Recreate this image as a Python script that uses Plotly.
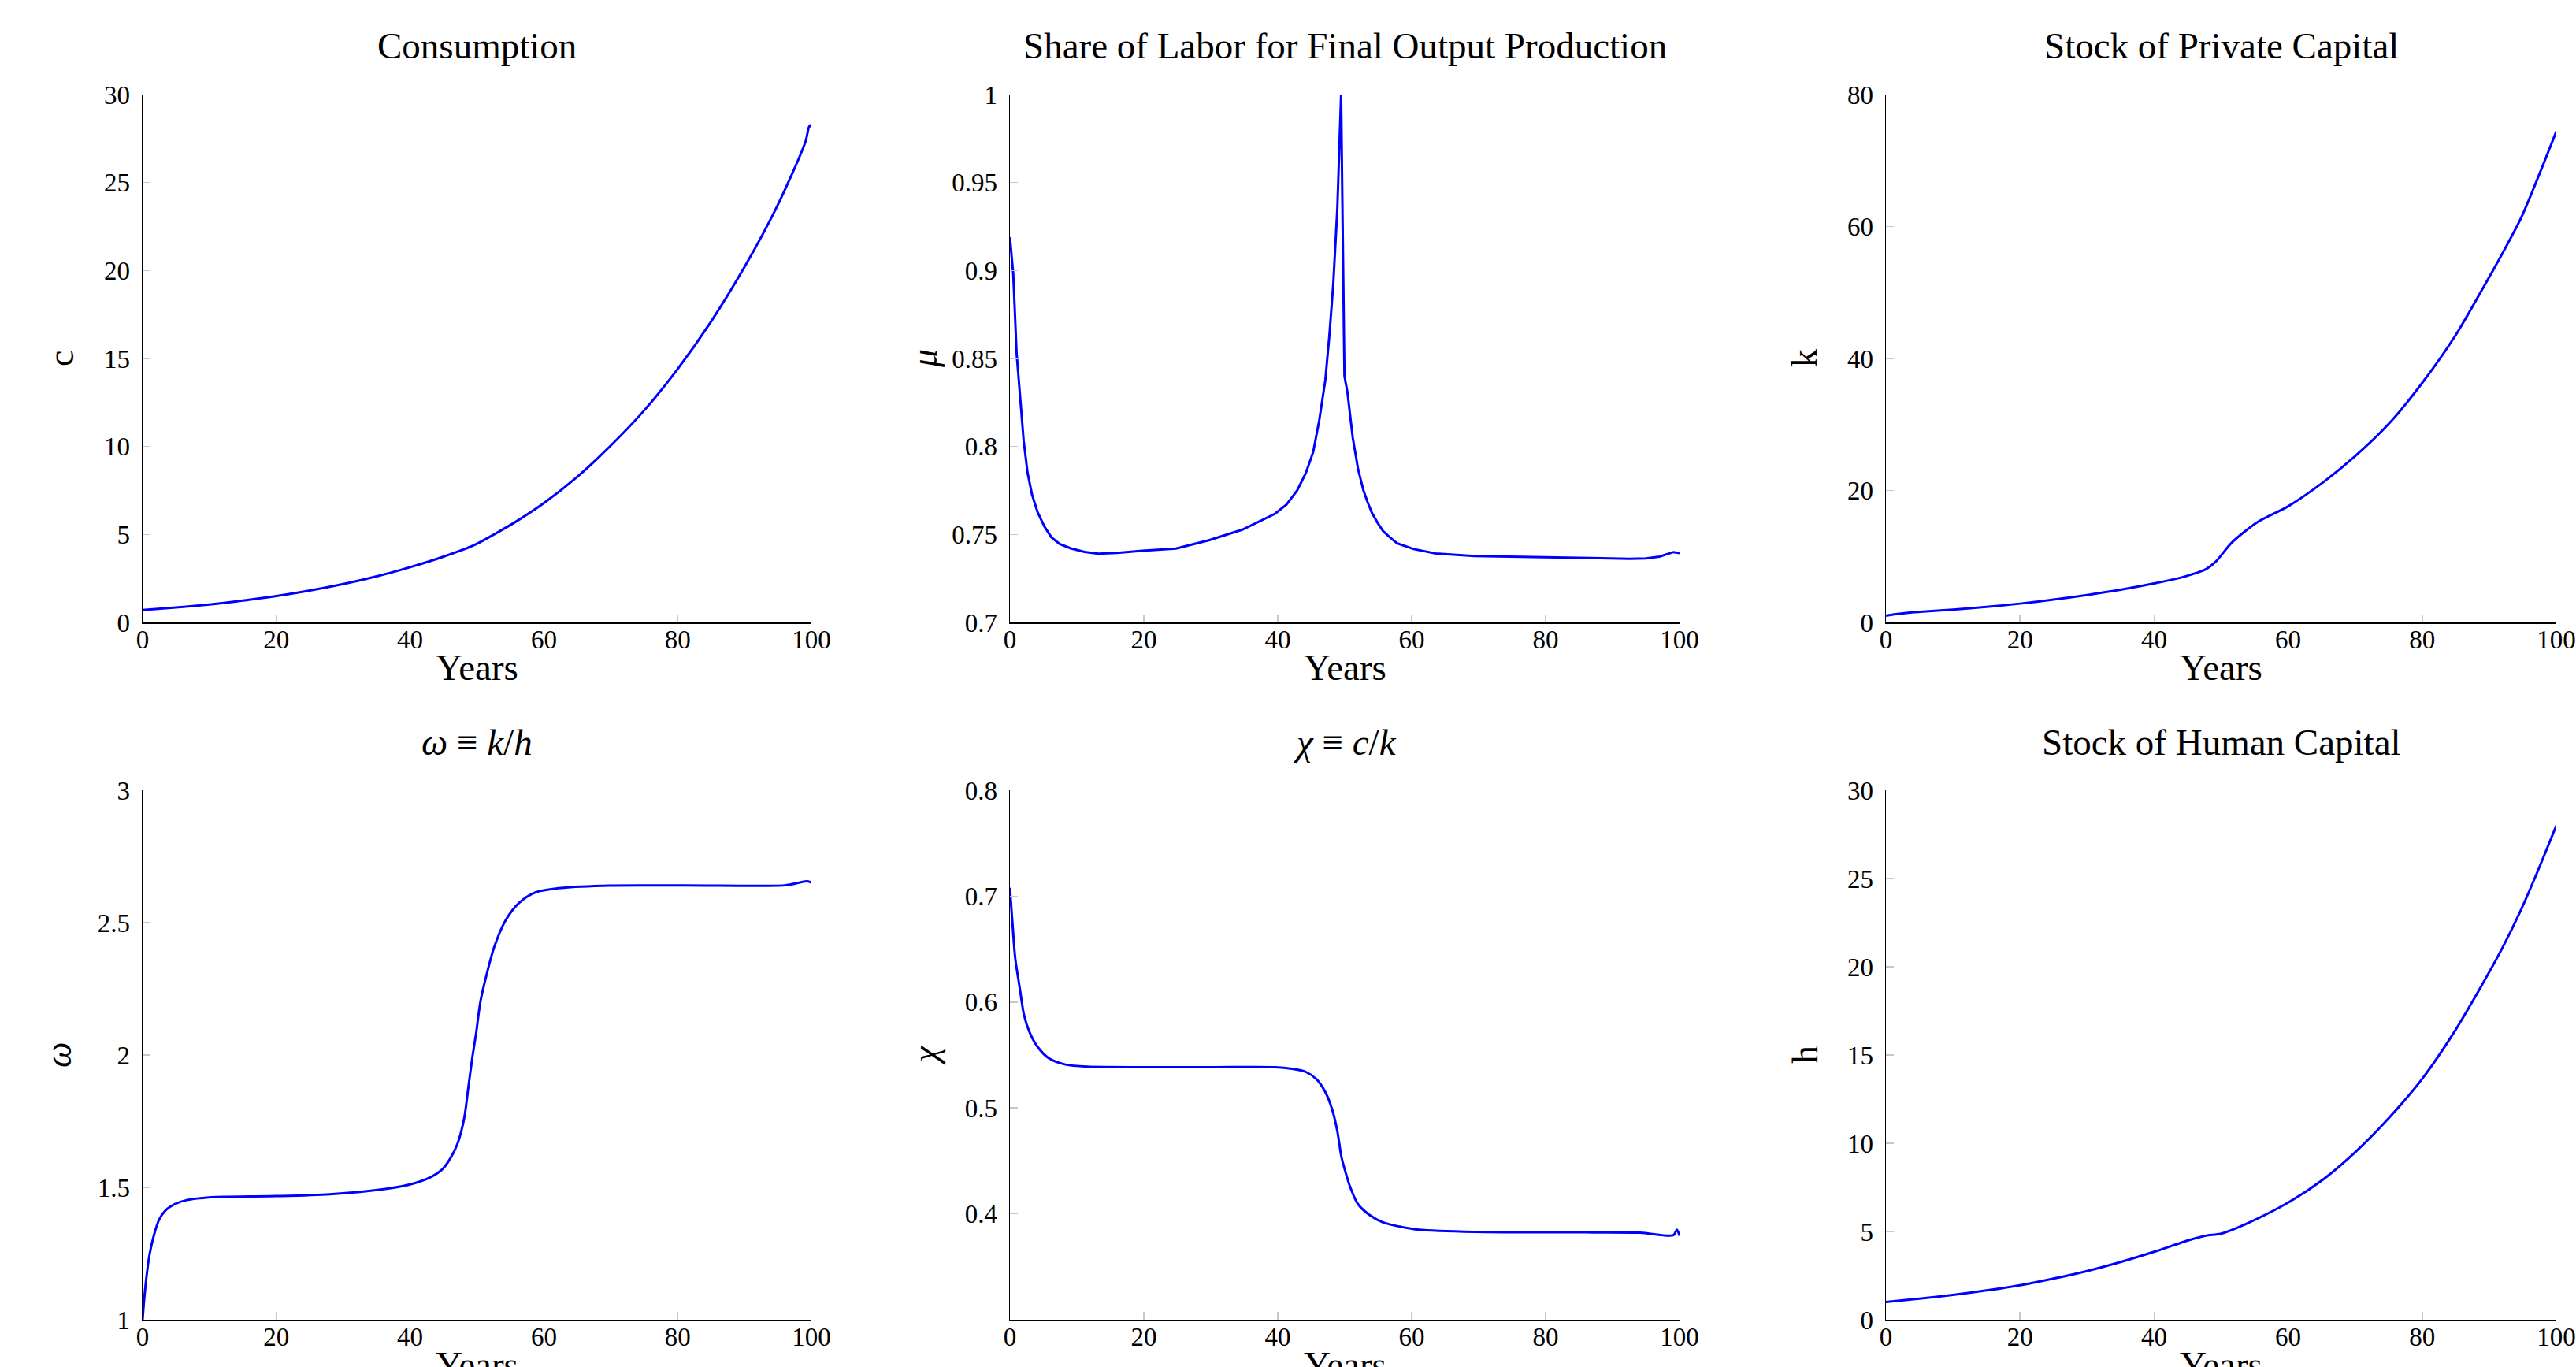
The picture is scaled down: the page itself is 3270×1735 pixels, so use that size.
import plotly.graph_objects as go

W, H = 3270, 1735

# ---------------- data ----------------
t_c = [0, 5, 10, 15, 20, 25, 30, 35, 40, 45, 49.5, 53, 56, 60, 65, 70, 75, 80, 85, 90, 95, 99.1, 99.7, 100]
c_vals = [0.70, 0.85, 1.02, 1.24, 1.50, 1.81, 2.18, 2.62, 3.14, 3.74, 4.38, 5.10, 5.77, 6.78, 8.28, 10.05,
          12.05, 14.4, 17.1, 20.2, 23.75, 27.3, 28.2, 28.2]

t_mu = [0, 0.5, 1.0, 1.49, 2.06, 2.64, 3.3, 4.13, 5.12, 6.19, 7.43, 9.08, 11.15, 13.2, 16, 19.8, 24.8, 29.7,
        34.7, 39.6, 41.3, 42.9, 44.2, 45.3, 46.2, 47.1, 47.7, 48.3, 48.9, 49.46, 49.96, 50.4, 51.2, 52.0,
        52.8, 53.4, 54.1, 54.9, 55.7, 56.7, 57.8, 60.3, 63.6, 69.4, 77.6, 85.9, 92.5, 95.0, 97.0, 99.1, 100]
mu_vals = [0.919, 0.898, 0.853, 0.828, 0.803, 0.785, 0.7727, 0.7627, 0.7547, 0.7484, 0.7446, 0.7421, 0.7401,
           0.7391, 0.7395, 0.7407, 0.742, 0.7467, 0.7527, 0.7618, 0.767, 0.775, 0.785, 0.797, 0.815, 0.8376,
           0.8627, 0.8928, 0.9355, 1.0, 0.840, 0.831, 0.805, 0.787, 0.775, 0.7685, 0.762, 0.7567, 0.752,
           0.7485, 0.745, 0.7417, 0.7392, 0.7377, 0.7372, 0.7367, 0.7362, 0.7364, 0.7374, 0.740, 0.7394]

t_k = [0, 1.5, 3.6, 6, 10, 15, 20, 25, 30, 35, 40, 43, 45.2, 47.7, 49.2, 51.6, 55.5, 60, 65.3, 70, 75.1,
       80, 84.9, 88.8, 92, 94.7, 97.1, 100]
k_vals = [1.0, 1.25, 1.5, 1.68, 1.95, 2.35, 2.85, 3.45, 4.15, 4.95, 5.9, 6.55, 7.15, 8.05, 9.2, 12.1, 15.25,
          17.6, 21.3, 25.2, 30.2, 36.3, 43.4, 50.2, 56.0, 61.2, 67.0, 74.4]

t_w = [0, 0.4, 1.0, 1.7, 2.5, 3.5, 5.1, 6.6, 9, 12, 20, 28, 36.5, 40, 43.1, 44.8, 46, 47.1, 48.1, 48.7,
       49.3, 49.9, 50.5, 51.4, 52.6, 54.3, 56.3, 58.8, 62.1, 69.5, 86, 96, 99.4, 100]
w_vals = [1.0, 1.12, 1.24, 1.32, 1.38, 1.415, 1.44, 1.452, 1.46, 1.464, 1.467, 1.474, 1.495, 1.511, 1.539,
          1.568, 1.609, 1.666, 1.763, 1.877, 1.99, 2.088, 2.2, 2.30, 2.41, 2.51, 2.575, 2.615, 2.63, 2.64,
          2.64, 2.641, 2.656, 2.651]

t_x = [0, 0.4, 0.8, 1.5, 2.1, 2.9, 4.1, 5.8, 8.3, 11.6, 20, 30, 39.6, 42.1, 44.2, 45.8, 47.1, 48.1, 48.9,
       49.5, 50.0, 50.8, 52, 53.7, 55.7, 58.2, 61.1, 69.4, 85.9, 94.1, 99.1, 99.6, 100]
chi_vals = [0.708, 0.673, 0.641, 0.612, 0.588, 0.572, 0.558, 0.547, 0.541, 0.539, 0.5385, 0.5385, 0.5385,
            0.537, 0.534, 0.527, 0.515, 0.499, 0.478, 0.454, 0.442, 0.4256, 0.409, 0.399, 0.392, 0.388,
            0.385, 0.383, 0.3825, 0.3822, 0.3799, 0.3851, 0.3794]

t_h = [0, 5, 10, 15, 20, 25, 30, 35, 40, 45.2, 47.7, 50.0, 53.6, 60.06, 65.3, 70, 75.1, 80.05, 84.9, 88.8,
       92, 94.7, 97.1, 100]
h_vals = [1.0, 1.19, 1.41, 1.66, 1.95, 2.33, 2.76, 3.27, 3.85, 4.51, 4.76, 4.88, 5.41, 6.65, 7.97, 9.49,
          11.46, 13.68, 16.38, 18.9, 21.1, 23.2, 25.3, 28.0]

titles = ["Consumption", "Share of Labor for Final Output Production", "Stock of Private Capital",
          "<i>ω</i> ≡ <i>k</i>/<i>h</i>", "<i>χ</i> ≡ <i>c</i>/<i>k</i>", "Stock of Human Capital"]
ylabels = ["c", "<i>μ</i>", "k", "<i>ω</i>", "<i>χ</i>", "h"]
xlabel = "Years"
x_ticks = [0, 20, 40, 60, 80, 100]
y_ticks = [
    ([0, 5, 10, 15, 20, 25, 30], ["0", "5", "10", "15", "20", "25", "30"], [0, 30]),
    ([0.7, 0.75, 0.8, 0.85, 0.9, 0.95, 1.0], ["0.7", "0.75", "0.8", "0.85", "0.9", "0.95", "1"], [0.7, 1.0]),
    ([0, 20, 40, 60, 80], ["0", "20", "40", "60", "80"], [0, 80]),
    ([1, 1.5, 2, 2.5, 3], ["1", "1.5", "2", "2.5", "3"], [1, 3]),
    ([0.4, 0.5, 0.6, 0.7, 0.8], ["0.4", "0.5", "0.6", "0.7", "0.8"], [0.3, 0.8]),
    ([0, 5, 10, 15, 20, 25, 30], ["0", "5", "10", "15", "20", "25", "30"], [0, 30]),
]
series = [(t_c, c_vals), (t_mu, mu_vals), (t_k, k_vals), (t_w, w_vals), (t_x, chi_vals), (t_h, h_vals)]
shapes_ = ["spline", "linear", "spline", "spline", "spline", "spline"]
ylab_dx = [-103, -108, -103, -107, -108, -103]  # label centre offset from axis (px)

# ---------------- layout (pixel boxes) ----------------
cols = [(181, 1030), (1282, 2132), (2394, 3245)]
rows = [(120, 790), (1003, 1675)]

FONT = "Liberation Serif, DejaVu Serif, serif"
fig = go.Figure()
annotations = []


def px(x):
    return x / W


def py(y):
    return 1 - y / H


layout_axes = {}
for i, ((tx, vals), title, ylab, (tv, tt, rng), shp) in enumerate(zip(series, titles, ylabels, y_ticks, shapes_)):
    r, cidx = divmod(i, 3)
    x0, x1 = cols[cidx]
    y0, y1 = rows[r]
    n = "" if i == 0 else str(i + 1)
    fig.add_trace(go.Scatter(x=tx, y=vals, mode="lines",
                             line=dict(color="#0000ff", width=3, shape=shp, smoothing=0.8),
                             xaxis="x" + n, yaxis="y" + n, showlegend=False, hoverinfo="skip"))
    common = dict(showline=True, linecolor="black", showgrid=False, zeroline=False, mirror=False,
                  ticks="inside", ticklen=10, tickwidth=1.5, tickcolor="#c8c8c8", automargin=False,
                  tickfont=dict(family=FONT, size=33, color="black"), fixedrange=True)
    layout_axes["xaxis" + n] = dict(domain=[px(x0), px(x1)], anchor="y" + n, range=[0, 100],
                                    tickvals=x_ticks, ticktext=[str(v) for v in x_ticks],
                                    linewidth=2, ticklabelstandoff=-9, **common)
    layout_axes["yaxis" + n] = dict(domain=[py(y1), py(y0)], anchor="x" + n, range=rng,
                                    tickvals=tv, ticktext=tt, linewidth=1.5, ticklabelstandoff=8, **common)
    cx = (x0 + x1) / 2
    title_y = 58 if r == 0 else 942
    annotations.append(dict(text=title, x=px(cx), y=py(title_y), xref="paper", yref="paper",
                            xanchor="center", yanchor="middle", showarrow=False,
                            font=dict(family=FONT, size=47, color="black")))
    annotations.append(dict(text=xlabel, x=px(cx), y=py(y1 + 57), xref="paper", yref="paper",
                            xanchor="center", yanchor="middle", showarrow=False,
                            font=dict(family=FONT, size=47, color="black")))
    annotations.append(dict(text=ylab, x=px(x0 + ylab_dx[i]), y=py((y0 + y1) / 2), xref="paper", yref="paper",
                            xanchor="center", yanchor="middle", showarrow=False, textangle=-90,
                            font=dict(family=FONT, size=46, color="black")))

fig.update_layout(template="none", width=W, height=H, margin=dict(l=0, r=0, t=0, b=0, pad=0),
                  paper_bgcolor="white", plot_bgcolor="white",
                  annotations=annotations, **layout_axes)

fig.write_html("out.html", config={"displayModeBar": False, "staticPlot": True},
               post_script="document.body.style.margin='0';"
                           "document.documentElement.style.overflow='hidden';"
                           "document.body.style.overflow='hidden';")
